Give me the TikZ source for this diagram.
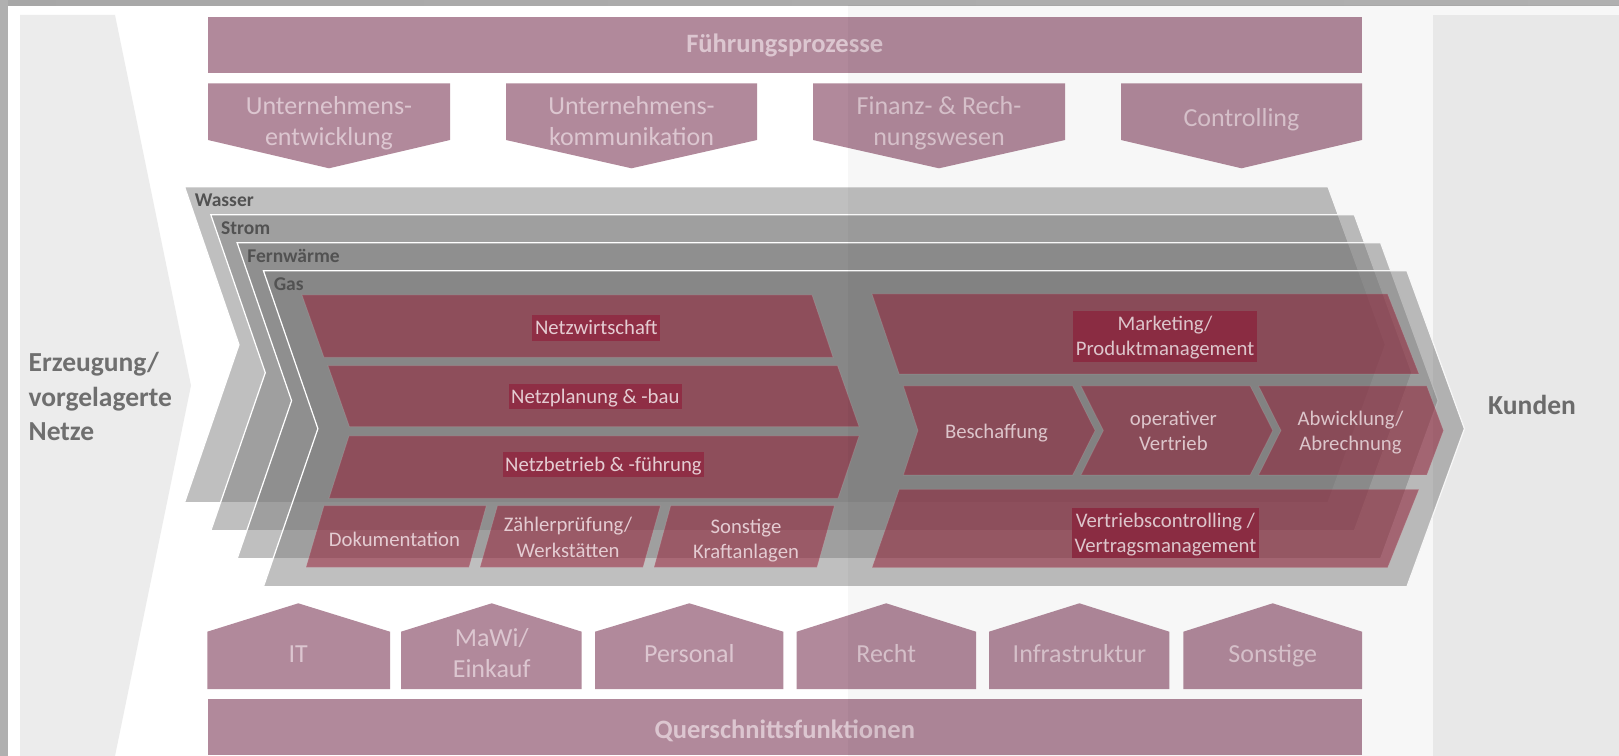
\documentclass[tikz,border=0pt]{standalone}
\usepackage{fontspec}
\setmainfont{Carlito}
\usetikzlibrary{calc}

\definecolor{framegray}{HTML}{B0B0B0}
\definecolor{sidegray}{HTML}{ECECEC}
\definecolor{sidegrayR}{HTML}{F0F0F0}
\definecolor{mauve}{HTML}{B1899B}
\definecolor{mauvetext}{HTML}{DCC6D0}
\definecolor{layergray}{HTML}{808080}
\definecolor{boxred}{HTML}{961B34}
\definecolor{labelred}{HTML}{8F2E45}
\definecolor{boxtext}{HTML}{E4CCD2}
\definecolor{sidetext}{HTML}{6F6F6F}
\definecolor{layertext}{HTML}{525252}

% strut giving each highlighted line its full line box
\newcommand\lstr{\rule[-3.4pt]{0pt}{14.5pt}}

\tikzset{
  mauvebox/.style={fill=mauve},
  layer/.style={fill=layergray, fill opacity=0.5, draw=white, line width=0.7pt},
  redbox/.style={fill=boxred, fill opacity=0.52, draw=white, draw opacity=0.12, line width=0.5pt},
  boxtxt/.style={text=boxtext, font=\fontsize{11.8}{14.5}\selectfont, align=center, inner sep=0pt},
  lbl/.style={boxtxt, fill=labelred, inner xsep=1.5pt, inner ysep=0pt},
  penttxt/.style={text=mauvetext, font=\fontsize{14.8}{17.5}\selectfont, align=center, inner sep=0pt},
  bartxt/.style={text=mauvetext, font=\bfseries\fontsize{15.1}{18}\selectfont, inner sep=0pt},
  sidetxt/.style={text=sidetext, font=\bfseries\fontsize{15.65}{19.9}\selectfont, align=left, inner sep=0pt},
  layerlbl/.style={text=layertext, font=\bfseries\fontsize{11.1}{13}\selectfont, inner sep=0pt},
}

\begin{document}
\begin{tikzpicture}[x=0.02cm, y=-0.02cm]
\useasboundingbox (0,0) rectangle (1619,756);

% window background and frame
\fill[white] (0,0) rectangle (1619,756);
\shade[left color=framegray!95!black, middle color=black!20, right color=framegray] (0,0) rectangle (1619,5.5);
\fill[framegray] (0,0) rectangle (8,756);

% side areas (multi-line nodes are placed by the baseline of their last line)
\fill[sidegray] (20,15) -- (115,15) -- (191,385.5) -- (115,756) -- (20,756) -- cycle;
\fill[sidegrayR] (1433,15) rectangle (1619,756);
\node[sidetxt, anchor=base west] (erz) at (28.3,441) {Erzeugung/\\vorgelagerte\\Netze};
\node[sidetxt, anchor=base] (kunden) at (1532,415) {Kunden};

% management processes
\fill[mauvebox] (207.6,16.7) rectangle (1362,72.7);
\node[bartxt, anchor=base] (fp) at (784.8,52.3) {Führungsprozesse};
\fill[mauvebox] (208,83.3) -- (450,83.3) -- (450,140) -- (329,168.3) -- (208,140) -- cycle;
\fill[mauvebox] (506,83.3) -- (757,83.3) -- (757,140) -- (631.5,168.3) -- (506,140) -- cycle;
\fill[mauvebox] (813,83.3) -- (1065,83.3) -- (1065,140) -- (939,168.3) -- (813,140) -- cycle;
\fill[mauvebox] (1121,83.3) -- (1362,83.3) -- (1362,140) -- (1241.5,168.3) -- (1121,140) -- cycle;
\node[penttxt, anchor=base] (ue) at (329,145.7) {Unternehmens-\\entwicklung};
\node[penttxt, anchor=base] (uk) at (631.5,145.7) {Unternehmens-\\kommunikation};
\node[penttxt, anchor=base] (fr) at (939,145.7) {Finanz- \& Rech-\\nungswesen};
\node[penttxt, anchor=base] (co) at (1241.5,126.7) {Controlling};

% network layers
\foreach \i/\name in {0/Wasser,1/Strom,2/Fernwärme,3/Gas} {
  \pgfmathsetmacro\xa{184.5+26.3*\i}
  \pgfmathsetmacro\ya{186.7+28*\i}
  \filldraw[layer] (\xa,\ya) -- ++(1143.5,0) -- ++(57.5,158) -- ++(-57.5,158)
    -- ++(-1143.5,0) -- ++(54.5,-158) -- cycle;
  \node[layerlbl, anchor=base west] (layer\i) at (\xa+10,\ya+19.5) {\name};
}

% grid business
\filldraw[redbox] (302,295) -- (812,295) -- (833,357.3) -- (324,357.3) -- cycle;
\filldraw[redbox] (328,365.7) -- (837.5,365.7) -- (859,426.7) -- (349.5,426.7) -- cycle;
\filldraw[redbox] (349,436) -- (859,436) -- (838,498.3) -- (329,498.3) -- cycle;
\filldraw[redbox] (324,505.7) -- (486.3,505.7) -- (469,567.3) -- (306,567.3) -- cycle;
\filldraw[redbox] (497.5,505.7) -- (660.4,505.7) -- (643,567.3) -- (480,567.3) -- cycle;
\filldraw[redbox] (670.7,505.7) -- (834.4,505.7) -- (817,567.3) -- (654,567.3) -- cycle;
\node[lbl, anchor=base] (nw) at (596.3,335) {Netzwirtschaft\lstr};
\node[lbl, anchor=base] (np) at (595.3,403.5) {Netzplanung \& -bau\lstr};
\node[lbl, anchor=base] (nb) at (603.4,471.5) {Netzbetrieb \& -führung\lstr};
\node[boxtxt, anchor=base] (dok) at (394.5,546.7) {Dokumentation};
\node[boxtxt, anchor=base] (zp) at (568,557.2) {Zählerprüfung/\\Werkstätten};
\node[boxtxt, anchor=base] (sk) at (746,558.5) {Sonstige\\Kraftanlagen};

% sales
\filldraw[redbox] (872,294) -- (1387.6,294) -- (1419,374) -- (899.2,374) -- cycle;
\filldraw[redbox] (903.4,386) -- (1072.6,386) -- (1095,430.5) -- (1072.6,475) -- (903.4,475) -- (918,430.5) -- cycle;
\filldraw[redbox] (1081,386) -- (1250.2,386) -- (1272.7,430.5) -- (1250.2,475) -- (1081,475) -- (1103.4,430.5) -- cycle;
\filldraw[redbox] (1258.6,386) -- (1426.8,386) -- (1443.5,430.5) -- (1426.8,475) -- (1258.6,475) -- (1281,430.5) -- cycle;
\filldraw[redbox] (899.2,489.3) -- (1419,489.3) -- (1387.6,567.7) -- (872,567.7) -- cycle;
\node[lbl, anchor=base] (mk) at (1165,356) {Marketing/\lstr\\Produktmanagement\lstr};
\node[boxtxt, anchor=base] (bs) at (996.4,438.3) {Beschaffung};
\node[boxtxt, anchor=base] (ov) at (1173.4,451) {operativer\\Vertrieb};
\node[boxtxt, anchor=base] (ab) at (1350.5,451) {Abwicklung/\\Abrechnung};
\node[lbl, anchor=base] (vc) at (1165.4,552.5) {Vertriebscontrolling /\lstr\\Vertragsmanagement\lstr};

% cross-sectional functions
\fill[mauvebox] (207.3,689) -- (207.3,631.7) -- (298.3,603.3) -- (390,631.7) -- (390,689) -- cycle;
\fill[mauvebox] (401,689) -- (401,631.7) -- (491.7,603.3) -- (581.7,631.7) -- (581.7,689) -- cycle;
\fill[mauvebox] (595,689) -- (595,631.7) -- (689.3,603.3) -- (783.3,631.7) -- (783.3,689) -- cycle;
\fill[mauvebox] (796.7,689) -- (796.7,631.7) -- (886.2,603.3) -- (976,631.7) -- (976,689) -- cycle;
\fill[mauvebox] (989,689) -- (989,631.7) -- (1079.4,603.3) -- (1169.3,631.7) -- (1169.3,689) -- cycle;
\fill[mauvebox] (1183.4,689) -- (1183.4,631.7) -- (1272.7,603.3) -- (1362,631.7) -- (1362,689) -- cycle;
\node[penttxt, anchor=base] (it) at (298.3,662.3) {IT};
\node[penttxt, anchor=base] (mw) at (491.7,677.7) {MaWi/\\Einkauf};
\node[penttxt, anchor=base] (pe) at (689.3,662.3) {Personal};
\node[penttxt, anchor=base] (re) at (886.2,662.3) {Recht};
\node[penttxt, anchor=base] (in) at (1079.4,662.3) {Infrastruktur};
\node[penttxt, anchor=base] (so) at (1272.7,662.3) {Sonstige};
\fill[mauvebox] (207.6,699) rectangle (1362,755);
\node[bartxt, anchor=base] (qf) at (784.8,738.3) {Querschnittsfunktionen};

% slightly darker right half of the sheet
\fill[black, fill opacity=0.03] (848,5.5) rectangle (1619,756);
\end{tikzpicture}
\end{document}
